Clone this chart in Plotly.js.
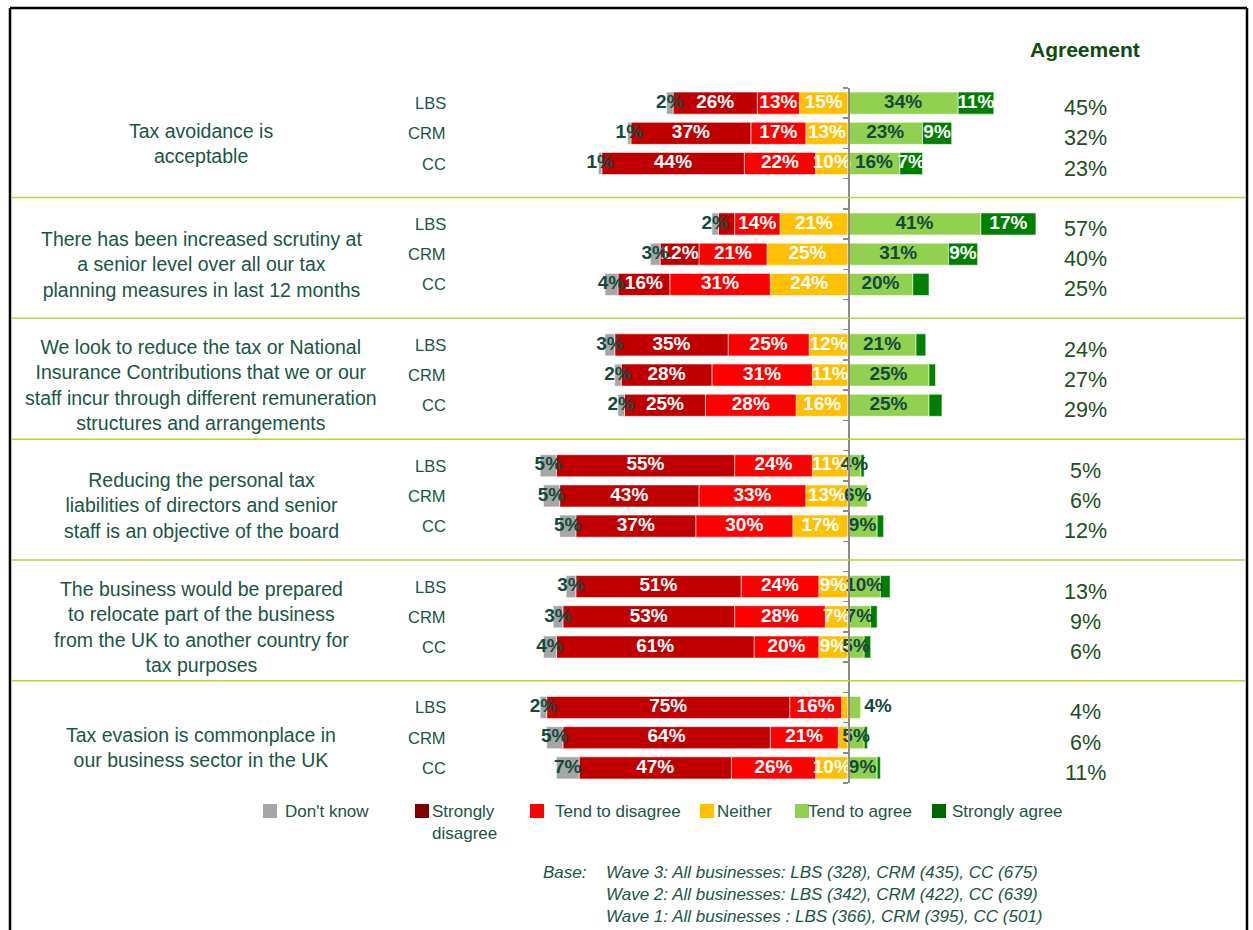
<!DOCTYPE html>
<html>
<head>
<meta charset="utf-8">
<script src="https://cdn.plot.ly/plotly-3.0.1.min.js"></script>
<style>html,body{margin:0;padding:0;background:#fff;}#chart{width:1253px;height:930px;}</style>
</head>
<body>
<div id="chart"></div>
<script>
// ---------------- DATA ----------------
const questions = [
  "Tax avoidance is<br>acceptable",
  "There has been increased scrutiny at<br>a senior level over all our tax<br>planning measures in last 12 months",
  "We look to reduce the tax or National<br>Insurance Contributions that we or our<br>staff incur through different remuneration<br>structures and arrangements",
  "Reducing the personal tax<br>liabilities of directors and senior<br>staff is an objective of the board",
  "The business would be prepared<br>to relocate part of the business<br>from the UK to another country for<br>tax purposes",
  "Tax evasion is commonplace in<br>our business sector in the UK"
];
const subgroups = ["LBS", "CRM", "CC"];

// one value per bar: question 1 (LBS, CRM, CC), question 2 (LBS, CRM, CC), ...
const dontKnow         = [2, 1, 1,   2, 3, 4,   3, 2, 2,   5, 5, 5,   3, 3, 4,   2, 5, 7];
const stronglyDisagree = [26, 37, 44, 5, 12, 16, 35, 28, 25, 55, 43, 37, 51, 53, 61, 75, 64, 47];
const tendDisagree     = [13, 17, 22, 14, 21, 31, 25, 31, 28, 24, 33, 30, 24, 28, 20, 16, 21, 26];
const neither          = [15, 13, 10, 21, 25, 24, 12, 11, 16, 11, 13, 17, 9, 7, 9,   2, 3, 10];
const tendAgree        = [34, 23, 16, 41, 31, 20, 21, 25, 25, 4, 6, 9,   10, 7, 5,   4, 5, 9];
const stronglyAgree    = [11, 9, 7,   17, 9, 5,   3, 2, 4,   1, 0, 2,    3, 2, 2,    0, 1, 1];
const agreement        = [45, 32, 23, 57, 40, 25, 24, 27, 29, 5, 6, 12, 13, 9, 6, 4, 6, 11];

// segments whose value label is not printed in the original
const hiddenLabels = {
  stronglyDisagree: [3],
  neither: [15, 16],
  stronglyAgree: [5, 6, 7, 8, 9, 11, 12, 13, 14, 16, 17]
};
// label printed outside (to the right of) its segment
const outsideLabels = { tendAgree: [15] };

const seriesNames  = ["Don't know", "Strongly disagree", "Tend to disagree", "Neither", "Tend to agree", "Strongly agree"];
const legendLabels = ["Don't know", "Strongly<br>disagree", "Tend to disagree", "Neither", "Tend to agree", "Strongly agree"];
const baseLines = [
  "Wave 3: All businesses: LBS (328), CRM (435), CC (675)",
  "Wave 2: All businesses: LBS (342), CRM (422), CC (639)",
  "Wave 1: All businesses : LBS (366), CRM (395), CC (501)"
];

// ---------------- STYLE ----------------
const W = 1253, H = 930;
const FONT = "Liberation Sans, Arial, sans-serif";
const TXT = "#1B5545";
const LBLDARK = "#134A3C";
const colors = {
  dontKnow: "#A6A6A6", stronglyDisagree: "#C00000", tendDisagree: "#FF0000",
  neither: "#FFC000", tendAgree: "#92D050", stronglyAgree: "#008000"
};
const legendColors = ["#A6A6A6", "#800000", "#FF0000", "#FFC000", "#92D050", "#006600"];
const labelColors = {
  dontKnow: LBLDARK, stronglyDisagree: "#FFFFFF", tendDisagree: "#FFFFFF",
  neither: "#FFFFFF", tendAgree: LBLDARK, stronglyAgree: "#FFFFFF"
};

const px = v => v / W;
const py = v => 1 - v / H;

// bar positions: 4 slots per question (3 bars + gap)
const yPos = [];
questions.forEach((q, g) => subgroups.forEach((s, i) => yPos.push(g * 4 + i)));

// ---------------- TRACES ----------------
const seriesKeys = ["dontKnow", "stronglyDisagree", "tendDisagree", "neither", "tendAgree", "stronglyAgree"];
const seriesData = { dontKnow, stronglyDisagree, tendDisagree, neither, tendAgree, stronglyAgree };

// stacking order outward from the centre line
const leftOrder = ["neither", "tendDisagree", "stronglyDisagree", "dontKnow"];
const rightOrder = ["tendAgree", "stronglyAgree"];

const traces = [];
const labelTraces = [];
function addSeries(key, sign, prevKeys) {
  const vals = seriesData[key];
  const name = seriesNames[seriesKeys.indexOf(key)];
  traces.push({
    type: "bar", orientation: "h", name: name, showlegend: false,
    y: yPos, x: vals.map(v => sign * v), width: 0.73,
    marker: { color: colors[key], line: { color: "rgba(255,255,255,0.55)", width: 1 } },
    hoverinfo: "name+text", text: vals.map(v => v + "%"), textposition: "none"
  });
  const hid = hiddenLabels[key] || [];
  const out = outsideLabels[key] || [];
  const xs = [], texts = [], pos = [];
  vals.forEach((v, i) => {
    const before = prevKeys.reduce((a, k) => a + seriesData[k][i], 0);
    const isOut = out.includes(i);
    xs.push(sign * (before + (isOut ? v + 1 : v / 2)));
    texts.push(v > 0 && !hid.includes(i) ? "<b>" + v + "%</b>" : "");
    pos.push(isOut ? "middle right" : "middle center");
  });
  labelTraces.push({
    type: "scatter", mode: "text", x: xs, y: yPos, text: texts, textposition: pos,
    textfont: { family: FONT, size: 19, color: labelColors[key] },
    showlegend: false, hoverinfo: "skip", cliponaxis: false
  });
}
leftOrder.forEach((k, i) => addSeries(k, -1, leftOrder.slice(0, i)));
rightOrder.forEach((k, i) => addSeries(k, 1, rightOrder.slice(0, i)));

// ---------------- ANNOTATIONS ----------------
const annotations = [];
questions.forEach((q, g) => {
  annotations.push({
    xref: "paper", yref: "y", x: px(201), y: g * 4 + 1, yshift: -10,
    text: q, showarrow: false, xanchor: "center", yanchor: "middle", align: "center",
    font: { family: FONT, size: 19.5, color: TXT }
  });
});
yPos.forEach((y, i) => {
  annotations.push({
    xref: "paper", yref: "y", x: px(448), y: y, text: subgroups[i % 3], showarrow: false,
    xanchor: "right", yanchor: "middle", font: { family: FONT, size: 16.5, color: TXT }
  });
  annotations.push({
    xref: "paper", yref: "y", x: px(1085), y: y, yshift: -5, text: agreement[i] + "%", showarrow: false,
    xanchor: "center", yanchor: "middle", font: { family: FONT, size: 21.5, color: "#1E4F22" }
  });
});
annotations.push({
  xref: "paper", yref: "paper", x: px(1085), y: py(50), text: "<b>Agreement</b>", showarrow: false,
  xanchor: "center", yanchor: "middle", font: { family: FONT, size: 21, color: "#0E4A12" }
});

// legend
const legendSquareX = [263, 415, 530, 700, 795, 932];
const legendTextX   = [283, 430, 553, 715, 806, 950];
const shapes = [];
seriesKeys.forEach((k, i) => {
  shapes.push({
    type: "rect", xref: "paper", yref: "paper",
    x0: px(legendSquareX[i]), x1: px(legendSquareX[i] + 14), y0: py(818), y1: py(804),
    fillcolor: legendColors[i], line: { width: 0 }
  });
  annotations.push({
    xref: "paper", yref: "paper", x: px(legendTextX[i]), y: py(800), text: legendLabels[i],
    showarrow: false, xanchor: "left", yanchor: "top", align: "left",
    font: { family: FONT, size: 17, color: TXT }
  });
});
annotations.push({
  xref: "paper", yref: "paper", x: px(541), y: py(861), text: "<i>Base:</i>", showarrow: false,
  xanchor: "left", yanchor: "top", font: { family: FONT, size: 17, color: TXT }
});
annotations.push({
  xref: "paper", yref: "paper", x: px(604), y: py(861), text: baseLines.map(s => "<i>" + s + "</i>").join("<br>"),
  showarrow: false, xanchor: "left", yanchor: "top", align: "left",
  font: { family: FONT, size: 17, color: TXT }
});

// separators between questions
for (let g = 1; g < questions.length; g++) {
  shapes.push({
    type: "line", xref: "paper", yref: "y", x0: px(12), x1: px(1245), y0: g * 4 - 0.88, y1: g * 4 - 0.88,
    line: { color: "#B8D43C", width: 1.5 }
  });
}
// frame
shapes.push({ type: "line", xref: "paper", yref: "paper", x0: px(10), x1: px(1247), y0: py(8), y1: py(8), line: { color: "#000", width: 2.5 } });
shapes.push({ type: "line", xref: "paper", yref: "paper", x0: px(10), x1: px(10), y0: py(8), y1: 0, line: { color: "#000", width: 2.5 } });
shapes.push({ type: "line", xref: "paper", yref: "paper", x0: px(1247), x1: px(1247), y0: py(8), y1: 0, line: { color: "#000", width: 2.5 } });

// ---------------- LAYOUT ----------------
const pxPerPct = 3.24, centerX = 848;
const slotTop = 88, slotBottom = 783;
const tickVals = [];
for (let k = -0.5; k <= 22.5; k += 1) tickVals.push(k);

const layout = {
  width: W, height: H, margin: { l: 0, r: 0, t: 0, b: 0 },
  paper_bgcolor: "#fff", plot_bgcolor: "rgba(0,0,0,0)",
  barmode: "relative", showlegend: false,
  xaxis: {
    range: [-centerX / pxPerPct, (W - centerX) / pxPerPct], domain: [0, 1],
    showgrid: false, zeroline: false, showticklabels: false, showline: false, ticks: ""
  },
  yaxis: {
    range: [22.5, -0.5], domain: [py(slotBottom), py(slotTop)],
    anchor: "free", position: px(centerX),
    showgrid: false, zeroline: false, showticklabels: false,
    showline: true, linecolor: "#8C8C8C", linewidth: 1.5,
    ticks: "outside", ticklen: 5, tickcolor: "#8C8C8C", tickwidth: 1.5,
    tickmode: "array", tickvals: tickVals
  },
  annotations: annotations, shapes: shapes,
  font: { family: FONT }
};

Plotly.newPlot("chart", traces.concat(labelTraces), layout, { displayModeBar: false, staticPlot: true });
</script>
</body>
</html>
